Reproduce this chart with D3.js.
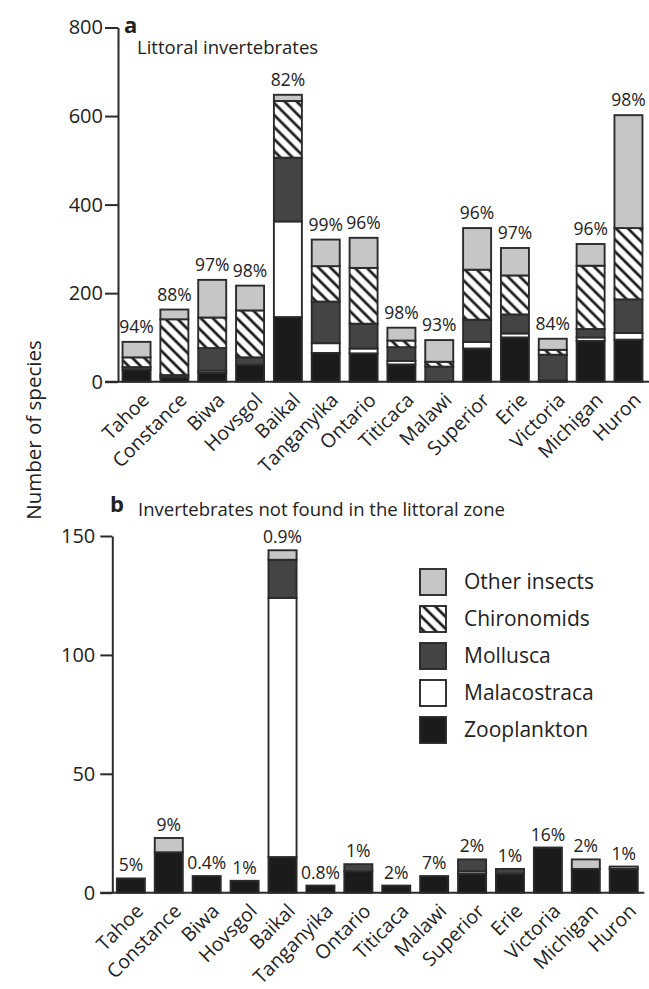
<!DOCTYPE html>
<html><head><meta charset="utf-8">
<script src="https://cdn.jsdelivr.net/npm/d3@7/dist/d3.min.js"></script>
<style>
html,body{margin:0;padding:0;background:#fff;}
text{font-family:"Open Sans","Noto Sans",sans-serif;fill:#222;}
</style></head>
<body>
<svg id="chart" width="649" height="989"></svg>
<script>
const lakes = ["Tahoe","Constance","Biwa","Hovsgol","Baikal","Tanganyika","Ontario","Titicaca","Malawi","Superior","Erie","Victoria","Michigan","Huron"];
const groups = ["Zooplankton","Malacostraca","Mollusca","Chironomids","Other insects"];

// Panel a: littoral invertebrates
const zooA = [27,10,20,38,146,65,64,39,0,75,100,3,92,95];
const malA = [0,0,5,0,216,22,11,8,0,15,9,0,8,15];
const molA = [6,5,51,17,144,94,56,31,34,50,43,58,19,76];
const chiA = [22,126,69,106,128,80,126,15,11,113,88,11,143,161];
const othA = [35,22,85,56,14,60,68,29,49,94,62,25,49,255];
const pctA = ["94%","88%","97%","98%","82%","99%","96%","98%","93%","96%","97%","84%","96%","98%"];
const ticksA = [0,200,400,600,800];

// Panel b: invertebrates not found in the littoral zone
const zooB = [6,17,7,5,15,3,9,3,7,8,8,19,10,10];
const malB = [0,0,0,0,109,0,0,0,0,1,0,0,0,0];
const molB = [0,0,0,0,16,0,3,0,0,5,2,0,0,0];
const chiB = [0,0,0,0,0,0,0,0,0,0,0,0,0,0];
const othB = [0,6,0,0,4,0,0,0,0,0,0,0,4,1];
const pctB = ["5%","9%","0.4%","1%","0.9%","0.8%","1%","2%","7%","2%","1%","16%","2%","1%"];
const ticksB = [0,50,100,150];

const legendOrder = ["Other insects","Chironomids","Mollusca","Malacostraca","Zooplankton"];

const svg = d3.select("#chart");
const defs = svg.append("defs");
const pat = defs.append("pattern").attr("id","hatch").attr("patternUnits","userSpaceOnUse")
  .attr("width",8.5).attr("height",8.5).attr("patternTransform","rotate(-45)");
pat.append("rect").attr("width",8.5).attr("height",8.5).attr("fill","#fff");
pat.append("line").attr("x1",2).attr("y1",-1).attr("x2",2).attr("y2",10).attr("stroke","#1a1a1a").attr("stroke-width",2.7);

const fills = {"Zooplankton":"#1b1b1b","Malacostraca":"#ffffff","Mollusca":"#444444","Chironomids":"url(#hatch)","Other insects":"#c6c6c6"};
const stroke = "#2b2b2b";

function rows(zoo,mal,mol,chi,oth){
  return lakes.map((l,i)=>({lake:l,"Zooplankton":zoo[i],"Malacostraca":mal[i],"Mollusca":mol[i],"Chironomids":chi[i],"Other insects":oth[i]}));
}

function panel(cfg){
  const g = svg.append("g");
  const x = d3.scaleBand().domain(lakes).range([cfg.x0, cfg.x1]).paddingInner(0.26).paddingOuter(0.12);
  const y = d3.scaleLinear().domain([0,cfg.max]).range([cfg.yb, cfg.yt]);
  const data = rows(...cfg.series);
  const stack = d3.stack().keys(groups)(data);
  stack.forEach(s=>{
    g.append("g").selectAll("rect").data(s.filter(d=>d[1]-d[0]>0)).join("rect")
      .attr("x",d=>x(d.data.lake)).attr("width",x.bandwidth())
      .attr("y",d=>y(d[1])).attr("height",d=>y(d[0])-y(d[1]))
      .attr("fill",fills[s.key]).attr("stroke",stroke).attr("stroke-width",1.9);
  });
  // totals
  const totals = data.map(d=>groups.reduce((a,k)=>a+d[k],0));
  g.append("g").selectAll("text").data(lakes).join("text")
    .attr("x",d=>x(d)+x.bandwidth()/2).attr("y",(d,i)=>y(totals[i])-cfg.pgap)
    .attr("text-anchor","middle").style("font-size","17.5px").text((d,i)=>cfg.pct[i]);
  // y axis
  const ax = g.append("g").attr("transform",`translate(${cfg.x0},0)`)
    .call(d3.axisLeft(y).tickValues(cfg.ticks).tickSize(cfg.tsize).tickSizeOuter(0).tickPadding(cfg.tpad));
  ax.select(".domain").attr("stroke","#2b2b2b").attr("stroke-width",2);
  ax.selectAll(".tick line").attr("stroke","#2b2b2b").attr("stroke-width",2);
  ax.selectAll(".tick text").style("font-size","20px").style("font-family","'Open Sans'").attr("fill","#222");
  // x axis line
  g.append("line").attr("x1",cfg.x0-cfg.tsize).attr("x2",cfg.x1+2).attr("y1",y(0)).attr("y2",y(0))
    .attr("stroke","#2b2b2b").attr("stroke-width",2);
  // x labels
  g.append("g").selectAll("text").data(lakes).join("text")
    .attr("transform",d=>`translate(${x(d)+x.bandwidth()/2+4},${y(0)+10}) rotate(-45)`)
    .attr("text-anchor","end").attr("dy","0.7em").style("font-size","19.5px").text(d=>d);
  // panel letter & title
  g.append("text").attr("x",cfg.lx).attr("y",cfg.ly).style("font-size","22px").style("font-weight","bold").text(cfg.letter);
  g.append("text").attr("x",cfg.tx).attr("y",cfg.ty).style("font-size","18.5px").text(cfg.title);
}

panel({x0:118,x1:647,yb:381.7,yt:27.5,max:800,series:[zooA,malA,molA,chiA,othA],pct:pctA,ticks:ticksA,pgap:9,tsize:13,tpad:2,
  letter:"a",lx:124,ly:33,title:"Littoral invertebrates",tx:137,ty:54});
panel({x0:112.3,x1:642.3,yb:892.7,yt:536,max:150,series:[zooB,malB,molB,chiB,othB],pct:pctB,ticks:ticksB,pgap:7,tsize:12,tpad:5,
  letter:"b",lx:110,ly:512,title:"Invertebrates not found in the littoral zone",tx:138,ty:516});

// y title
svg.append("text").attr("transform","translate(41,430) rotate(-90)").attr("text-anchor","middle")
  .style("font-size","20.5px").text("Number of species");

// legend
const lg = svg.append("g").attr("transform","translate(420,569)");
const li = lg.selectAll("g").data(legendOrder).join("g").attr("transform",(d,i)=>`translate(0,${i*37})`);
li.append("rect").attr("width",26).attr("height",26).attr("fill",d=>fills[d]).attr("stroke",stroke).attr("stroke-width",1.9);
li.append("text").attr("x",44).attr("y",20).style("font-size","21px").text(d=>d);
</script>
</body></html>
